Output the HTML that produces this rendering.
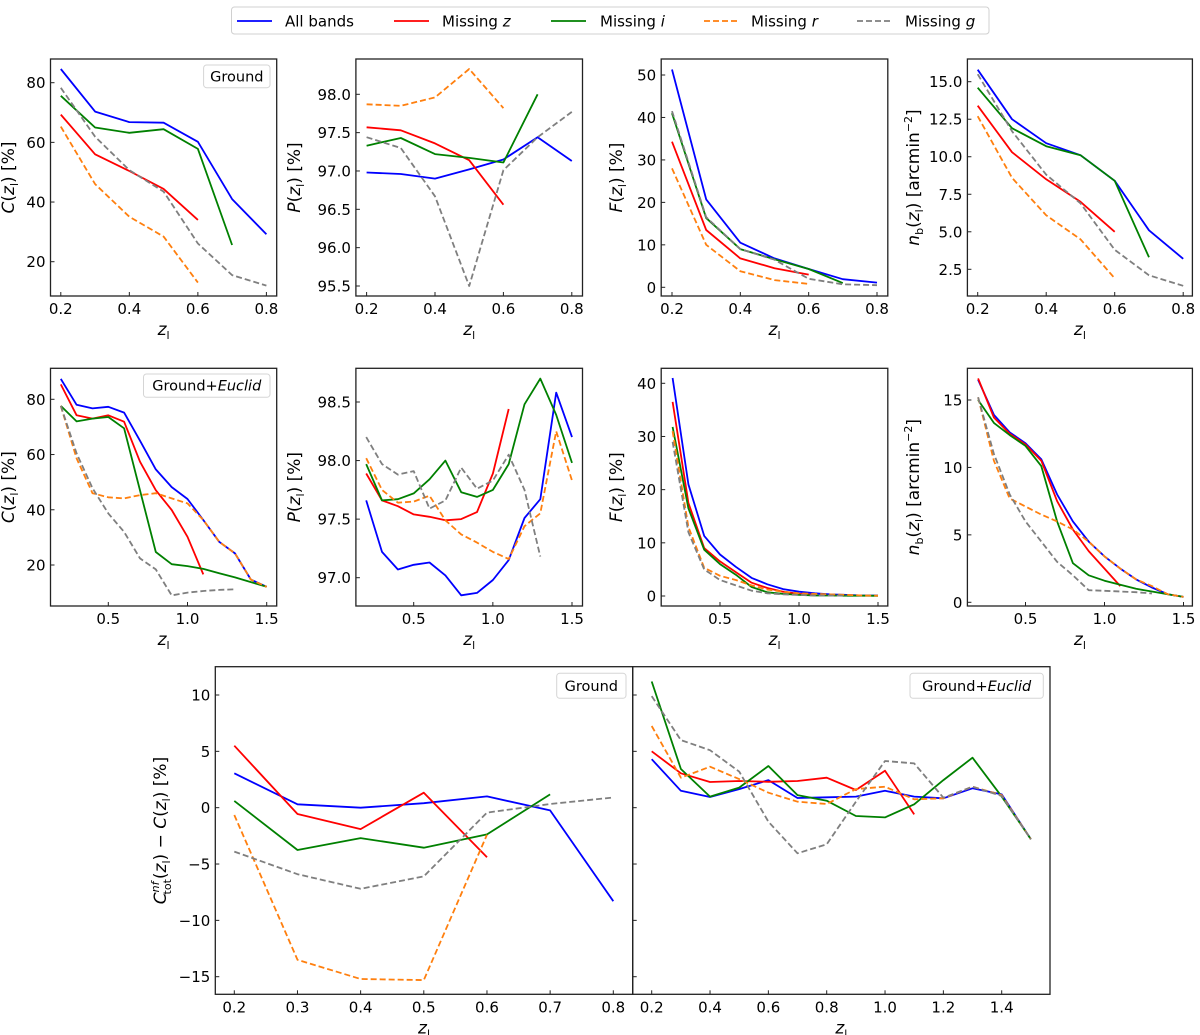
<!DOCTYPE html>
<html><head><meta charset="utf-8">
<style>
html,body{margin:0;padding:0;background:#fff;}
svg{display:block;font-family:"DejaVu Sans","Liberation Sans",sans-serif;}
</style></head>
<body>
<svg id="fig" width="1200" height="1035" viewBox="0 0 1200 1035" xmlns="http://www.w3.org/2000/svg">
<g id="legend">
<rect x="231.5" y="7" width="757.5" height="27" rx="3" fill="#fff" stroke="#d0d0d0" stroke-width="1"/>
<g><line x1="237" y1="21" x2="272" y2="21" stroke="#0000ff" stroke-width="1.8"/><text x="285" y="26.5" font-size="15">All bands</text></g>
<g><line x1="394" y1="21" x2="429" y2="21" stroke="#ff0000" stroke-width="1.8"/><text x="442" y="26.5" font-size="15">Missing <tspan font-style="italic">z</tspan></text></g>
<g><line x1="551" y1="21" x2="586" y2="21" stroke="#008000" stroke-width="1.8"/><text x="600" y="26.5" font-size="15">Missing <tspan font-style="italic">i</tspan></text></g>
<g><line x1="704" y1="21" x2="738" y2="21" stroke="#ff7f0e" stroke-width="1.8" stroke-dasharray="6,3"/><text x="751" y="26.5" font-size="15">Missing <tspan font-style="italic">r</tspan></text></g>
<g><line x1="857" y1="21" x2="891" y2="21" stroke="#7f7f7f" stroke-width="1.8" stroke-dasharray="6,3"/><text x="905" y="26.5" font-size="15">Missing <tspan font-style="italic">g</tspan></text></g>
</g>
</svg>
<script>
// ---------- data ----------
const z1 = [0.2,0.3,0.4,0.5,0.6,0.7,0.8];
const z2 = [0.2,0.3,0.4,0.5,0.6,0.7,0.8,0.9,1.0,1.1,1.2,1.3,1.4,1.5];
const seriesNames = ['all','z','i','r','g'];

// Row 1 (Ground)
const gC_all = [84.6,70.3,66.8,66.6,60.2,41.0,29.2];
const gC_z   = [69.3,56.0,50.4,44.4,34.0];
const gC_i   = [75.6,65.0,63.2,64.4,57.8,25.6];
const gC_r   = [65.3,46.0,35.1,28.4,13.0];
const gC_g   = [78.3,61.9,50.7,43.5,26.1,15.5,12.0];

const gP_all = [96.98,96.96,96.90,97.02,97.15,97.44,97.13];
const gP_z   = [97.57,97.53,97.36,97.14,96.56];
const gP_i   = [97.33,97.43,97.22,97.17,97.11,98.0];
const gP_r   = [97.87,97.85,97.96,98.33,97.82];
const gP_g   = [97.44,97.30,96.67,95.5,97.01,97.44,97.77];

const gF_all = [51.3,20.7,10.5,6.8,4.3,1.9,1.1];
const gF_z   = [34.3,13.5,6.8,4.5,3.0];
const gF_i   = [41.0,16.3,9.0,6.6,4.3,1.0];
const gF_r   = [28.0,10.0,3.8,1.7,0.8];
const gF_g   = [41.5,16.5,9.0,6.5,2.0,0.7,0.5];

const gN_all = [15.8,12.5,10.9,10.1,8.4,5.1,3.2];
const gN_z   = [13.4,10.3,8.5,7.0,5.0];
const gN_i   = [14.6,11.9,10.7,10.1,8.4,3.3];
const gN_r   = [12.7,8.6,6.1,4.5,1.9];
const gN_g   = [15.5,11.7,8.8,6.9,3.8,2.1,1.4];

// Row 2 (Ground+Euclid)
const eC_all = [87.4,78.0,76.7,77.3,75.2,65.0,54.6,48.2,43.9,36.3,28.4,24.2,14.7,12.1];
const eC_z   = [85.4,74.2,73.0,74.2,71.9,57.4,47.1,39.9,30.2,16.6];
const eC_i   = [77.6,72.0,73.0,73.6,69.5,47.0,24.7,20.3,19.6,18.6,17.0,15.5,13.8,12.1];
const eC_r   = [77.6,58.6,46.0,44.5,44.1,45.3,46.0,44.1,42.3,36.3,28.4,24.2,14.7,12.1];
const eC_g   = [77.6,60.4,47.8,38.7,32.0,22.4,18.4,9.0,10.0,10.6,11.0,11.2];

const eP_all = [97.66,97.22,97.07,97.11,97.13,97.02,96.85,96.87,96.98,97.15,97.51,97.67,98.58,98.20];
const eP_z   = [97.89,97.66,97.61,97.54,97.52,97.49,97.50,97.56,97.89,98.44];
const eP_i   = [97.97,97.66,97.67,97.72,97.84,98.00,97.73,97.69,97.75,97.97,98.48,98.70,98.39,97.98];
const eP_r   = [98.02,97.75,97.64,97.65,97.70,97.49,97.37,97.30,97.22,97.16,97.44,97.55,98.25,97.83];
const eP_g   = [98.20,97.97,97.88,97.91,97.59,97.66,97.94,97.76,97.83,98.05,97.75,97.18];

const eF_all = [41,21,11.3,7.8,5.5,3.4,2.2,1.3,0.8,0.5,0.3,0.2,0.1,0.1];
const eF_z   = [36.5,17.5,9,6.5,4.5,2.5,1.5,0.8,0.4,0.2];
const eF_i   = [31.8,16.5,8.7,6,4,1.7,0.7,0.4,0.2,0.1,0.1,0.05,0.05,0.03];
const eF_r   = [31,13,5.3,3.8,3,2,1.2,0.8,0.5,0.4,0.3,0.2,0.1,0.05];
const eF_g   = [29,12,5,3,2,1,0.5,0.3,0.2,0.1,0.1,0.05];

const eN_all = [16.5,13.9,12.6,11.8,10.6,8.0,6.0,4.5,3.4,2.5,1.7,1.1,0.6,0.4];
const eN_z   = [16.6,13.7,12.5,11.7,10.5,7.5,5.4,3.8,2.5,1.2];
const eN_i   = [15.0,13.3,12.4,11.6,10.1,6.0,2.9,2.0,1.6,1.3,1.0,0.8,0.6,0.4];
const eN_r   = [15.2,10.5,7.7,7.1,6.5,6.0,5.4,4.5,3.4,2.5,1.7,1.2,0.6,0.4];
const eN_g   = [15.2,11.0,8.0,6.0,4.5,3.0,2.0,0.9,0.85,0.8,0.75,0.65];

// Row 3 (difference)
const dG_all = [3.05,0.3,0.0,0.4,1.0,-0.24,-8.3];
const dG_z   = [5.5,-0.56,-1.9,1.33,-4.4];
const dG_i   = [0.6,-3.76,-2.7,-3.55,-2.37,1.18];
const dG_r   = [-0.65,-13.5,-15.2,-15.3,-2.4];
const dG_g   = [-3.9,-5.9,-7.2,-6.1,-0.44,0.33,0.9];

const dE_all = [4.3,1.5,0.95,1.65,2.45,0.86,0.92,0.98,1.5,0.98,0.83,1.72,1.18,-2.8];
const dE_z   = [5.0,3.05,2.28,2.37,2.3,2.37,2.66,1.57,3.28,-0.6];
const dE_i   = [11.2,3.43,0.98,1.78,3.7,1.12,0.62,-0.74,-0.86,0.3,2.45,4.44,0.98,-2.8];
const dE_r   = [7.25,2.66,3.64,2.54,1.33,0.53,0.33,1.65,1.86,0.74,0.83,1.86,1.12,-2.8];
const dE_g   = [9.9,6.0,5.1,3.2,-1.24,-4.05,-3.25,0.53,4.14,3.93,0.89,1.86,1.04,-2.8];

// tick labels
const ticksC = [20,40,60,80];
const ticksGP = [95.5,96.0,96.5,97.0,97.5,98.0];
const ticksGF = [0,10,20,30,40,50];
const ticksGN = [2.5,5.0,7.5,10.0,12.5,15.0];
const ticksEP = [97.0,97.5,98.0,98.5];
const ticksEF = [0,10,20,30,40];
const ticksEN = [0,5,10,15];
const ticksD = [-15,-10,-5,0,5,10];
const xt1 = [0.2,0.4,0.6,0.8];
const xt2 = [0.5,1.0,1.5];
const xt3L = [0.2,0.3,0.4,0.5,0.6,0.7,0.8];
const xt3R = [0.2,0.4,0.6,0.8,1.0,1.2,1.4];

// ---------- drawing ----------
const NS = 'http://www.w3.org/2000/svg';
const svg = document.getElementById('fig');
const colors = {all:'#0000ff', z:'#ff0000', i:'#008000', r:'#ff7f0e', g:'#7f7f7f'};
const dashed = {r:true, g:true};

function mk(tag, attrs, parent){
  const e = document.createElementNS(NS, tag);
  for (const k in attrs) e.setAttribute(k, attrs[k]);
  (parent||svg).appendChild(e);
  return e;
}
function lin(v1,p1,v2,p2){ return v => p1 + (v - v1) * (p2 - p1) / (v2 - v1); }

function panel(cfg){
  const g = mk('g', {});
  
  
  const X = lin(cfg.xr[0],cfg.xr[1],cfg.xr[2],cfg.xr[3]);
  const Y = lin(cfg.yr[0],cfg.yr[1],cfg.yr[2],cfg.yr[3]);
  const [L,T,R,B] = cfg.box;
  cfg.series.forEach((s, idx) => {
    const key = seriesNames[idx];
    const pts = s.map((v,i) => X(cfg.x[i]).toFixed(1)+','+Y(v).toFixed(1)).join(' ');
    const pl = mk('polyline', {points:pts, fill:'none', stroke:colors[key], 'stroke-width':1.8, 'stroke-linejoin':'round'}, g);
    if (dashed[key]) pl.setAttribute('stroke-dasharray','6,3');
    
    
  });
  const fr = mk('rect', {x:L, y:T, width:R-L, height:B-T, fill:'none', stroke:'#222', 'stroke-width':1.3}, g);
  
  
  const yg = mk('g', {}, g);
  
  
  cfg.yt.forEach(v => {
    const y = Y(v);
    mk('line', {x1:L, y1:y, x2:L+4, y2:y, stroke:'#222', 'stroke-width':1}, yg);
    if (!cfg.noYLabels){
      const t = mk('text', {x:L-5, y:y+5.5, 'font-size':15, 'text-anchor':'end'}, yg);
      t.textContent = cfg.yfmt ? cfg.yfmt(v) : String(v);
    }
  });
  const xg = mk('g', {}, g);
  
  
  cfg.xt.forEach(v => {
    const x = X(v);
    mk('line', {x1:x, y1:B, x2:x, y2:B-4, stroke:'#222', 'stroke-width':1}, xg);
    const t = mk('text', {x:x, y:B+18, 'font-size':15, 'text-anchor':'middle'}, xg);
    t.textContent = v.toFixed(1);
  });
  const xl = mk('text', {x:(L+R)/2, y:B+39, 'font-size':17, 'text-anchor':'middle'}, g);
  
  
  xl.innerHTML = '<tspan font-style="italic">z</tspan><tspan font-size="11" dy="4">l</tspan>';
  if (cfg.ylabel){
    const cy = (T+B)/2;
    const yl = mk('text', {x:0, y:0, 'font-size':17, 'text-anchor':'middle', transform:'translate('+cfg.ylx+','+cy+') rotate(-90)'}, g);
    
    
    yl.innerHTML = cfg.ylabel;
  }
  if (cfg.tag){
    const [tx,ty,tw,th] = cfg.tag.box;
    const tg = mk('g', {}, g);
    
    
    mk('rect', {x:tx, y:ty, width:tw, height:th, rx:3, fill:'#fff', stroke:'#d5d5d5'}, tg);
    const t = mk('text', {x:tx+tw/2, y:ty+th/2+5, 'font-size':14.5, 'text-anchor':'middle'}, tg);
    t.innerHTML = cfg.tag.html;
  }
}
const zl = '(<tspan font-style="italic">z</tspan><tspan font-size="11" dy="4">l</tspan><tspan dy="-4">)</tspan>';
const labC = '<tspan font-style="italic">C</tspan>' + zl + ' [%]';
const labP = '<tspan font-style="italic">P</tspan>' + zl + ' [%]';
const labF = '<tspan font-style="italic">F</tspan>' + zl + ' [%]';
const labN = '<tspan font-style="italic">n</tspan><tspan font-size="11" dy="4">b</tspan><tspan dy="-4">(</tspan><tspan font-style="italic">z</tspan><tspan font-size="11" dy="4">l</tspan><tspan dy="-4">) [arcmin</tspan><tspan font-size="11" dy="-7">−2</tspan><tspan dy="7">]</tspan>';
const labD = '<tspan font-style="italic">C</tspan><tspan font-size="11" dy="-7" font-style="italic">nf</tspan><tspan font-size="11" dx="-13" dy="12">tot</tspan><tspan dy="-5">(</tspan><tspan font-style="italic">z</tspan><tspan font-size="11" dy="4">l</tspan><tspan dy="-4">) − </tspan><tspan font-style="italic">C</tspan>' + zl + ' [%]';
const f1 = v => v.toFixed(1);
const groundTag = {html:'Ground'};
const euclidTag = {html:'Ground+<tspan font-style="italic">Euclid</tspan>'};

panel({name:'ground-completeness', box:[50.5,59,276.7,296], xr:[0.2,60.8,0.8,266.4], yr:[80,82.7,20,261.7], x:z1,
  series:[gC_all,gC_z,gC_i,gC_r,gC_g], yt:ticksC, xt:xt1, ylabel:labC, ylx:14, tag:{box:[203.6,65,66.4,22.7], html:groundTag.html}});
panel({name:'ground-purity', box:[355.9,59,582.5,296], xr:[0.2,366.6,0.8,571.8], yr:[98.0,94.3,95.5,286], x:z1,
  series:[gP_all,gP_z,gP_i,gP_r,gP_g], yt:ticksGP, xt:xt1, ylabel:labP, ylx:300, yfmt:f1});
panel({name:'ground-fraction', box:[661.2,59,887.8,296], xr:[0.2,672,0.8,877], yr:[50,75,0,287.3], x:z1,
  series:[gF_all,gF_z,gF_i,gF_r,gF_g], yt:ticksGF, xt:xt1, ylabel:labF, ylx:622});
panel({name:'ground-density', box:[967.4,59,1192.4,296], xr:[0.2,977.7,0.8,1183.2], yr:[15,81.7,2.5,269.3], x:z1,
  series:[gN_all,gN_z,gN_i,gN_r,gN_g], yt:ticksGN, xt:xt1, ylabel:labN, ylx:919, yfmt:f1});
panel({name:'euclid-completeness', box:[50.5,368.3,276.7,606], xr:[0.5,108.3,1.5,266.7], yr:[80,399.3,20,565], x:z2,
  series:[eC_all,eC_z,eC_i,eC_r,eC_g], yt:ticksC, xt:xt2, ylabel:labC, ylx:14, tag:{box:[143.5,374,126.5,23.3], html:euclidTag.html}});
panel({name:'euclid-purity', box:[355.9,368.3,582.5,606], xr:[0.5,413.7,1.5,572], yr:[98.5,402,97.0,577.7], x:z2,
  series:[eP_all,eP_z,eP_i,eP_r,eP_g], yt:ticksEP, xt:xt2, ylabel:labP, ylx:300, yfmt:f1});
panel({name:'euclid-fraction', box:[661.2,368.3,887.8,606], xr:[0.5,720,1.5,878], yr:[40,383.3,0,596], x:z2,
  series:[eF_all,eF_z,eF_i,eF_r,eF_g], yt:ticksEF, xt:xt2, ylabel:labF, ylx:622});
panel({name:'euclid-density', box:[967.4,368.3,1192.4,606], xr:[0.5,1025.5,1.5,1183.5], yr:[15,400,0,602.3], x:z2,
  series:[eN_all,eN_z,eN_i,eN_r,eN_g], yt:ticksEN, xt:xt2, ylabel:labN, ylx:919});
panel({name:'ground-difference', box:[215.3,666.7,632.7,994.3], xr:[0.2,234.3,0.8,613.3], yr:[10,695,-15,976.7], x:z1,
  series:[dG_all,dG_z,dG_i,dG_r,dG_g], yt:ticksD, xt:xt3L, ylabel:labD, ylx:166, yfmt:v => v<0 ? '−'+Math.abs(v) : String(v),
  tag:{box:[556.7,673.3,69.3,25], html:groundTag.html}});
panel({name:'euclid-difference', box:[632.7,666.7,1050,994.3], xr:[0.2,651.7,1.4,1001.7], yr:[10,695,-15,976.7], x:z2,
  series:[dE_all,dE_z,dE_i,dE_r,dE_g], yt:ticksD, xt:xt3R, noYLabels:true,
  tag:{box:[910,673.3,133.3,25], html:euclidTag.html}});
</script>
</body></html>
